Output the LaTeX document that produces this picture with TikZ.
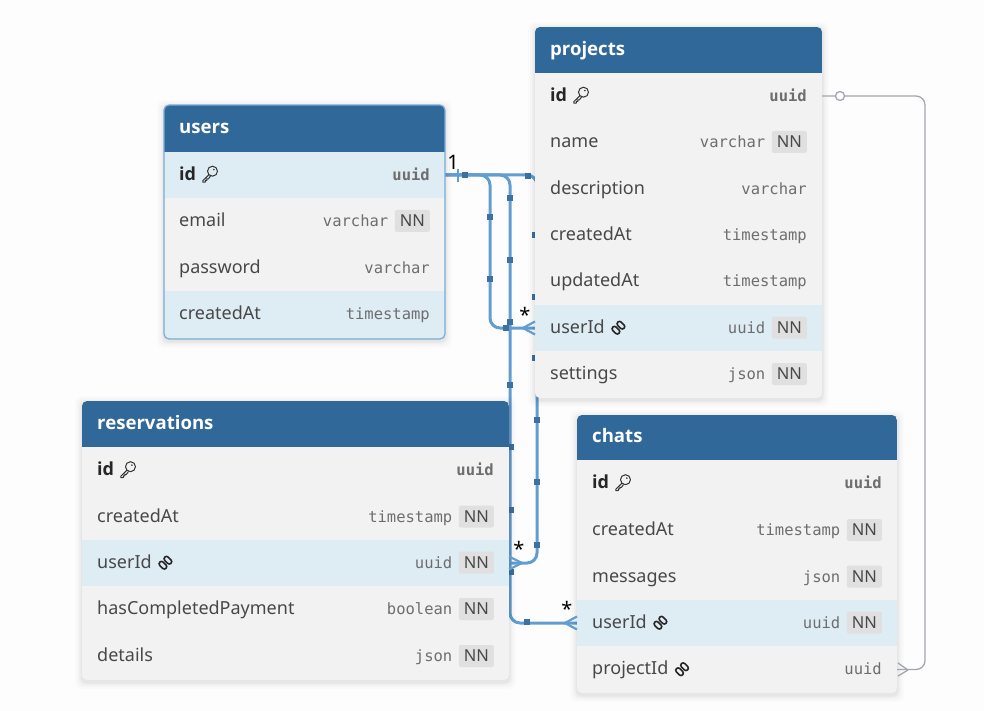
\documentclass[tikz,border=0pt]{standalone}
\usepackage{fontspec}
\setmainfont{Noto Sans}
\newfontfamily\typefont{DejaVu Sans Mono}
\newfontfamily\headfont{Open Sans}
\pgfdeclarelayer{bg}
\pgfsetlayers{bg,main}
\definecolor{hdr}{HTML}{31689A}
\definecolor{rowbg}{HTML}{F2F2F2}
\definecolor{rowhl}{HTML}{DEECF4}
\definecolor{lnk}{HTML}{629DD1}
\definecolor{mark}{HTML}{3D719F}
\definecolor{gry}{HTML}{A3A6AE}
\definecolor{ink}{HTML}{484848}
\definecolor{tink}{HTML}{6E6E6E}
\definecolor{nnbg}{HTML}{E0E0E0}
\definecolor{page}{HTML}{FDFDFD}
\tikzset{
  x=1pt,y=-1pt,
  lbl/.style={inner sep=0pt,anchor=base west,text=ink,font=\fontsize{18}{20}\selectfont},
  lblb/.style={lbl,text=black!85,font=\headfont\fontsize{18}{20}\selectfont\bfseries},
  typ/.style={inner sep=0pt,anchor=base east,text=tink,font=\typefont\fontsize{15.5}{18}\selectfont},
  typb/.style={typ,font=\typefont\bfseries\fontsize{15.5}{18}\selectfont},
  nnbox/.style={inner sep=0pt,fill=nnbg,rounded corners=2pt,minimum width=35pt,minimum height=22pt,text=ink,font=\fontsize{16.5}{18}\selectfont},
  rowcell/.style={inner sep=0pt,outer sep=0pt,anchor=north west,draw=none},
  titletxt/.style={inner sep=0pt,anchor=base west,text=white,font=\headfont\fontsize{18.6}{20}\selectfont\bfseries},
  rel/.style={draw=lnk,line width=3pt,rounded corners=10pt},
  relg/.style={draw=gry,line width=1.3pt,rounded corners=9pt},
  crow/.style={draw=lnk,line width=2.2pt},
  crowg/.style={draw=gry,line width=1.3pt},
  sq/.style={fill=mark,inner sep=0pt,minimum size=5.5pt,draw=none},
  card/.style={inner sep=0pt,text=black,font=\fontsize{20}{22}\selectfont},
}
\newcommand\tblbody[4]{%
  \foreach \g/\o in {7/.012,5/.018,3/.025,1.5/.035}{%
    \fill[black,opacity=\o,rounded corners=6pt] (#1-\g,#2-\g+2) rectangle (#3+\g,#4+\g+2);}%
}
\newcommand\cellrow[6]{%
  \pgfmathsetlengthmacro\cw{#3-#2}\pgfmathsetlengthmacro\ch{#5-#4}%
  \node[rowcell,fill=#6,minimum width=\cw,minimum height=\ch] (#1) at (#2,#4) {};}
\newcommand\keyicon[1]{%
  \begin{scope}[shift={(#1.base east)},xshift=6pt,yshift=1pt,draw=black!80,line width=1pt,line join=round]
    \draw (10.2,-8) circle[radius=5];
    \draw (6.8,-4.6) -- (0.6,1.4) -- (0.6,3.0) -- (3.0,3.0) -- (3.0,1.2) -- (4.6,1.2) -- (4.6,-0.4) -- (6.2,-0.4) -- (8.2,-3.2);
    \fill[black!80] (11.6,-9.6) circle[radius=.9];
  \end{scope}}
\newcommand\linkicon[1]{%
  \begin{scope}[shift={(#1.base east)},xshift=6pt,draw=black!85,line width=1.6pt]
    \draw[rotate around={-45:(10,-8)},rounded corners=2.4pt] (5.6,-10.4) rectangle (14.4,-5.6);
    \draw[rotate around={-45:(5,-3)},rounded corners=2.4pt] (.6,-5.4) rectangle (9.4,-.6);
  \end{scope}}
\newcommand\fld[9]{%
  \cellrow{#1-#2}{#3}{#4}{#5}{#6}{#9}%
  \pgfmathsetmacro\yb{(#5+#6)/2+5.2}%
  \node[lbl] (#1-#2-name) at (#3+15,\yb) {#7};%
  \node[typ] (#1-#2-type) at (#4-15,\yb) {#8};}
\newcommand\fldnn[9]{%
  \cellrow{#1-#2}{#3}{#4}{#5}{#6}{#9}%
  \pgfmathsetmacro\yb{(#5+#6)/2+5.2}%
  \pgfmathsetmacro\ym{(#5+#6)/2-.5}%
  \node[lbl] (#1-#2-name) at (#3+15,\yb) {#7};%
  \node[nnbox,anchor=east] (#1-#2-nn) at (#4-15,\ym) {NN};%
  \node[typ] (#1-#2-type) at (#4-56.5,\yb) {#8};}
\newcommand\fldid[6]{%
  \cellrow{#1-id}{#2}{#3}{#4}{#5}{#6}%
  \pgfmathsetmacro\yb{(#4+#5)/2+5.2}%
  \node[lblb] (#1-id-name) at (#2+15,\yb) {id};%
  \keyicon{#1-id-name}%
  \node[typb] (#1-id-type) at (#3-15,\yb) {uuid};}
\newcommand\hdrrow[6]{%
  \cellrow{#1-head}{#2}{#3}{#4}{#5}{hdr}%
  \pgfmathsetmacro\yb{(#4+#5)/2+5.5}%
  \node[titletxt] (#1-title) at (#2+15,\yb) {#6};}
\begin{document}
\begin{tikzpicture}
\useasboundingbox (0,0) rectangle (984,711);
\begin{pgfonlayer}{bg}
\fill[page] (0,0) rectangle (984,711);
\end{pgfonlayer}

% ---------- users
\tblbody{164}{105}{445}{339}
\begin{scope}
\clip[rounded corners=5pt] (164,105) rectangle (445,339);
\hdrrow{users}{164}{445}{105}{152}{users}
\fldid{users}{164}{445}{152}{198}{rowhl}
\fldnn{users}{email}{164}{445}{198}{245}{email}{varchar}{rowbg}
\fld{users}{password}{164}{445}{245}{291}{password}{varchar}{rowbg}
\fld{users}{createdAt}{164}{445}{291}{338}{createdAt}{timestamp}{rowhl}
\end{scope}
\draw[lnk!85!white,line width=1.2pt,rounded corners=5pt] (164,105) rectangle (445,339);

% ---------- projects
\tblbody{535}{27}{822}{398}
\begin{scope}
\clip[rounded corners=5pt] (535,27) rectangle (822,398);
\hdrrow{projects}{535}{822}{27}{73}{projects}
\fldid{projects}{535}{822}{73}{119}{rowbg}
\fldnn{projects}{name}{535}{822}{119}{166}{name}{varchar}{rowbg}
\fld{projects}{description}{535}{822}{166}{212}{description}{varchar}{rowbg}
\fld{projects}{createdAt}{535}{822}{212}{258}{createdAt}{timestamp}{rowbg}
\fld{projects}{updatedAt}{535}{822}{258}{305}{updatedAt}{timestamp}{rowbg}
\fldnn{projects}{userId}{535}{822}{305}{351}{userId}{uuid}{rowhl}
\linkicon{projects-userId-name}
\fldnn{projects}{settings}{535}{822}{351}{398}{settings}{json}{rowbg}
\end{scope}

% ---------- reservations
\tblbody{82}{401}{509}{680}
\begin{scope}
\clip[rounded corners=5pt] (82,401) rectangle (509,680);
\hdrrow{reservations}{82}{509}{401}{447}{reservations}
\fldid{reservations}{82}{509}{447}{494}{rowbg}
\fldnn{reservations}{createdAt}{82}{509}{494}{540}{createdAt}{timestamp}{rowbg}
\fldnn{reservations}{userId}{82}{509}{540}{586}{userId}{uuid}{rowhl}
\linkicon{reservations-userId-name}
\fldnn{reservations}{hasCompletedPayment}{82}{509}{586}{633}{hasCompletedPayment}{boolean}{rowbg}
\fldnn{reservations}{details}{82}{509}{633}{680}{details}{json}{rowbg}
\end{scope}

% ---------- chats
\tblbody{577}{415}{897}{693}
\begin{scope}
\clip[rounded corners=5pt] (577,415) rectangle (897,693);
\hdrrow{chats}{577}{897}{414}{460}{chats}
\fldid{chats}{577}{897}{460}{507}{rowbg}
\fldnn{chats}{createdAt}{577}{897}{507}{554}{createdAt}{timestamp}{rowbg}
\fldnn{chats}{messages}{577}{897}{554}{600}{messages}{json}{rowbg}
\fldnn{chats}{userId}{577}{897}{600}{646}{userId}{uuid}{rowhl}
\linkicon{chats-userId-name}
\fld{chats}{projectId}{577}{897}{646}{693}{projectId}{uuid}{rowbg}
\linkicon{chats-projectId-name}
\end{scope}

% ---------- connectors (behind the tables)
\coordinate (busA) at (490,0);
\coordinate (busB) at (510,0);
\coordinate (busC) at (537,0);
\coordinate (busG) at (925,0);
\begin{pgfonlayer}{bg}
\draw[rel] (users-id.east) -| (busA |- projects-userId.west) -- (projects-userId.west);
\draw[rel] (users-id.east) -| (busB |- chats-userId.west) -- (chats-userId.west);
\draw[rel] (users-id.east) -| (busC |- reservations-userId.east) -- (reservations-userId.east);
\foreach \x/\y in {465/175,490/217,490/279,506/328,
                   510/198,510/260,510/322,510/385,511/447,511/510,511/572,527/622,
                   528/176,535/235,535/297,535/358,537/420,537/482,537/545}
  \node[sq] (m\x-\y) at (\x,\y) {};
\end{pgfonlayer}
\draw[relg] (projects-id.east) -| (busG |- chats-projectId.east) -- (chats-projectId.east);
\node[circle,draw=gry,line width=1.3pt,fill=white,minimum size=9pt,inner sep=0pt] (optcircle) at (840,96) {};

% ---------- crow's feet and bars
\coordinate (cfa) at (523,328);
\draw[crow] (cfa) -- ([yshift=-6.5pt]projects-userId.west) (cfa) -- ([yshift=6.5pt]projects-userId.west);
\coordinate (cfb) at (522,563);
\draw[crow] (cfb) -- ([yshift=-6.5pt]reservations-userId.east) (cfb) -- ([yshift=6.5pt]reservations-userId.east);
\coordinate (cfc) at (565,623);
\draw[crow] (cfc) -- ([yshift=-6.5pt]chats-userId.west) (cfc) -- ([yshift=6.5pt]chats-userId.west);
\coordinate (cfd) at (908,670);
\draw[crowg] (cfd) -- ([xshift=1pt,yshift=-6.5pt]chats-projectId.east) (cfd) -- ([xshift=1pt,yshift=6.5pt]chats-projectId.east);
\coordinate (bart) at (458,169);
\coordinate (barb) at (458,182);
\draw[draw=lnk,line width=2.4pt] (bart) -- (barb);

\node[card] (card1) at (453,162) {1};
\node[card] (carda) at (525,315) {*};
\node[card] (cardb) at (519,549) {*};
\node[card] (cardc) at (567,609) {*};
\end{tikzpicture}
\end{document}
